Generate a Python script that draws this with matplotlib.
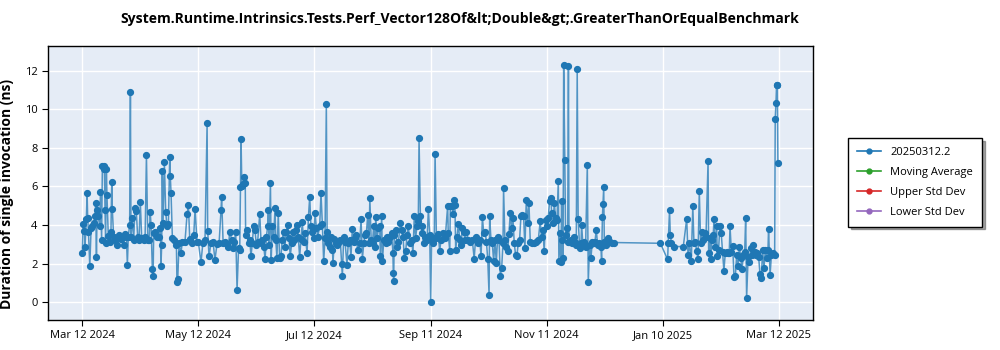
import datetime as dt

import numpy as np
import matplotlib
matplotlib.use("Agg")
import matplotlib.pyplot as plt
import matplotlib.dates as mdates
from matplotlib.ticker import FixedLocator, FixedFormatter, MultipleLocator

plt.rcParams['font.family'] = ['Open Sans', 'DejaVu Sans']

title = "System.Runtime.Intrinsics.Tests.Perf_Vector128Of&lt;Double&gt;.GreaterThanOrEqualBenchmark"
legend_names = ["20250312.2", "Moving Average", "Upper Std Dev", "Lower Std Dev"]
legend_colors = ["#1f77b4", "#2ca02c", "#d62728", "#9467bd"]
tick_labels = ["Mar 12 2024", "May 12 2024", "Jul 12 2024", "Sep 11 2024",
               "Nov 11 2024", "Jan 10 2025", "Mar 12 2025"]

start_date = dt.datetime(2024, 3, 12)
end_date = dt.datetime(2025, 3, 12)

# days since 2024-03-12 for every run
day_offsets = [
    0, 0.4, 1.1, 1.4, 2.1, 2.5, 2.8, 3.2, 3.9, 4.6, 5.3, 6.0, 6.7, 7.0, 7.4, 7.7, 8.4, 9.1, 9.5, 10.1,
    10.5, 11.2, 11.5, 11.9, 12.2, 12.6, 12.9, 13.6, 14.3, 15.0, 15.4, 15.7, 16.4, 17.1, 18.2, 19.2, 20.3,
    21.7, 22.4, 23.1, 23.6, 24.1, 24.8, 25.2, 25.5, 26.2, 26.9, 27.6, 28.3, 29.0, 29.7, 30.4, 31.1, 32.2,
    32.9, 33.6, 34.3, 35.0, 35.6, 36.0, 36.7, 37.1, 37.4, 38.1, 39.2, 40.2, 40.9, 41.2, 41.6, 41.9, 42.3,
    43.0, 43.7, 44.4, 45.1, 45.8, 46.1, 46.5, 47.2, 48.2, 49.3, 49.6, 50.0, 50.7, 51.7, 52.4, 53.8, 54.9,
    55.6, 56.3, 57.3, 58.4, 59.1, 60.1, 60.8, 62.2, 63.2, 64.3, 65.4, 65.7, 66.4, 67.4, 68.5, 69.5, 70.6,
    71.7, 72.7, 73.0, 73.8, 74.8, 75.8, 76.5, 77.3, 78.3, 79.0, 79.7, 80.4, 81.1, 81.9, 82.5, 82.9, 83.2,
    83.6, 84.3, 85.0, 85.4, 85.6, 86.4, 87.1, 87.8, 88.4, 89.1, 89.8, 90.5, 91.2, 91.9, 93.0, 93.7, 94.4,
    95.1, 95.8, 96.5, 97.2, 97.5, 97.9, 98.6, 99.0, 99.6, 100.3, 101.0, 101.4, 102.0, 102.7, 103.4, 104.1,
    104.8, 105.5, 106.2, 106.9, 107.6, 108.3, 109.0, 109.7, 110.4, 111.1, 111.8, 112.5, 113.2, 113.9,
    114.6, 115.3, 116.0, 116.7, 117.8, 118.5, 119.2, 119.8, 120.6, 121.3, 122.0, 122.7, 123.4, 124.4,
    125.1, 125.8, 126.5, 127.2, 127.9, 128.3, 129.0, 129.7, 130.4, 131.1, 131.4, 132.1, 132.8, 133.5,
    134.2, 135.2, 135.9, 136.3, 137.0, 137.7, 138.7, 139.4, 140.1, 140.8, 141.5, 142.2, 142.9, 143.6,
    144.3, 145.4, 146.1, 146.8, 147.5, 148.2, 148.9, 149.6, 150.3, 150.7, 151.4, 152.1, 152.7, 153.5,
    153.8, 154.5, 155.2, 155.9, 156.2, 156.9, 157.3, 158.0, 159.0, 159.7, 160.4, 161.4, 162.1, 162.8,
    163.0, 163.2, 163.5, 164.3, 165.0, 165.7, 166.7, 167.4, 168.1, 168.8, 169.5, 170.2, 170.9, 171.6,
    172.6, 173.3, 174.0, 174.7, 175.4, 176.1, 176.5, 177.2, 177.9, 178.2, 178.9, 179.6, 180.7, 181.4,
    182.1, 182.6, 183.1, 183.8, 184.5, 184.9, 185.6, 186.6, 187.3, 188.0, 189.1, 190.2, 191.5, 191.8,
    192.6, 192.9, 193.6, 194.3, 195.0, 195.3, 195.7, 196.4, 197.1, 197.8, 198.5, 199.2, 199.9, 200.6,
    201.3, 202.3, 203.4, 204.4, 205.4, 206.2, 207.2, 208.3, 209.0, 209.7, 210.4, 211.1, 211.8, 212.5,
    213.2, 213.5, 214.2, 214.9, 215.6, 216.3, 217.0, 217.7, 218.4, 219.1, 219.8, 220.5, 220.8, 221.5,
    222.2, 222.9, 223.6, 224.3, 225.0, 225.7, 226.4, 227.1, 227.8, 228.5, 229.2, 229.9, 230.6, 231.3,
    232.0, 232.7, 233.4, 234.1, 234.8, 235.8, 236.9, 237.9, 239.0, 240.0, 240.7, 241.4, 242.1, 242.8,
    243.5, 244.2, 244.9, 245.6, 246.0, 246.7, 247.4, 248.1, 248.8, 249.5, 249.8, 250.5, 250.9, 251.2,
    251.6, 252.0, 252.3, 252.9, 253.3, 254.0, 254.4, 254.8, 255.1, 256.1, 256.8, 257.5, 258.2, 258.9,
    259.4, 259.9, 260.7, 261.4, 261.7, 262.4, 263.1, 263.8, 264.7, 265.2, 265.9, 266.6, 267.3, 268.0,
    268.7, 269.4, 270.1, 270.8, 271.8, 272.2, 272.6, 272.9, 273.3, 273.6, 274.3, 275.0, 275.7, 276.4,
    277.5, 278.5, 303.0, 306.8, 307.1, 307.8, 308.2, 308.8, 309.9, 315.0, 316.8, 317.5, 318.2, 319.2,
    320.0, 320.6, 321.3, 322.0, 322.7, 323.4, 324.1, 324.8, 325.5, 326.2, 326.9, 328.0, 328.3, 329.0,
    329.3, 330.0, 330.7, 331.1, 331.8, 332.5, 332.8, 333.5, 334.2, 334.9, 335.6, 336.3, 337.0, 337.7,
    338.4, 339.1, 339.5, 340.2, 340.9, 341.6, 342.3, 343.0, 343.7, 344.4, 345.1, 345.8, 346.5, 347.2,
    347.7, 348.2, 349.0, 349.7, 350.4, 351.1, 351.7, 352.4, 353.1, 353.8, 354.5, 355.2, 355.9, 356.6,
    357.3, 358.0, 358.7, 359.4, 359.7, 360.5, 361.2, 362.2, 362.9, 363.2, 363.6, 363.9, 364.3, 364.6,
]

# duration of a single invocation, ns
durations = [
    2.54, 4.06, 3.71, 2.88, 4.30, 5.65, 4.35, 3.66, 1.87, 3.83, 3.95, 4.09, 4.44, 5.13, 2.33, 4.78, 4.44, 3.92, 5.73, 3.23,
    7.06, 6.89, 7.06, 4.78, 3.06, 6.89, 5.56, 3.44, 3.14, 3.66, 6.22, 4.84, 3.40, 3.23, 2.97, 3.49, 3.26,
    2.94, 3.54, 3.40, 1.93, 3.40, 4.01, 10.88, 3.40, 4.35, 3.23, 4.87, 4.70, 3.40, 3.23, 5.18, 3.32, 3.23,
    3.40, 7.62, 3.23, 3.23, 4.65, 4.01, 1.73, 1.38, 3.58, 3.66, 3.40, 3.40, 3.83, 1.85, 2.97, 6.79, 4.09,
    7.24, 4.65, 3.92, 4.04, 7.50, 6.55, 5.65, 3.32, 3.20, 2.97, 1.02, 1.19, 3.06, 2.54, 3.11, 3.14, 4.56,
    5.03, 3.26, 3.06, 3.49, 4.82, 3.14, 3.11, 2.06, 3.09, 3.23, 9.29, 3.71, 2.37, 3.06, 3.14, 2.19, 3.02,
    3.09, 4.78, 5.44, 3.06, 3.14, 3.02, 2.88, 3.66, 3.23, 2.80, 3.14, 3.61, 0.64, 2.80, 2.71, 5.96, 8.43,
    6.03, 6.11, 6.46, 6.16, 3.49, 3.75, 3.06, 3.23, 2.37, 3.06, 3.97, 3.75, 2.97, 3.14, 4.58, 3.06, 3.23,
    2.88, 2.23, 3.40, 3.97, 4.75, 2.97, 6.16, 2.19, 3.92, 3.40, 4.87, 3.23, 2.28, 4.61, 2.28, 2.37,
    3.23, 3.66, 2.88, 3.66, 4.01, 3.32, 2.37, 3.06, 3.61, 3.23, 3.75, 4.01, 3.40, 2.33,
    3.26, 4.13, 3.14, 3.58, 2.54, 4.40, 5.47, 3.92, 3.66, 3.32, 4.61, 3.83, 3.40, 3.92,
    5.65, 4.06, 2.11, 3.30, 10.28, 3.66, 3.06, 2.88, 3.40, 2.68, 2.02, 3.26, 3.06, 2.97,
    3.06, 3.23, 1.97, 1.33, 3.40, 3.14, 1.93, 3.06, 3.20, 2.33, 3.78, 3.14, 3.32, 3.49,
    2.68, 3.06, 4.30, 2.23, 3.06, 3.49, 3.58, 4.53, 3.06, 5.39, 3.23, 3.06, 3.92, 2.88,
    4.40, 3.32, 3.83, 3.95, 2.37, 4.47, 2.11, 3.23, 3.09, 3.40, 3.14, 3.40, 3.58, 2.57,
    1.50, 1.12, 3.49, 3.75, 2.88, 3.14, 4.09, 3.75, 3.40, 2.28, 2.63, 3.49, 3.95, 3.09,
    3.23, 2.54, 4.44, 3.32, 3.92, 4.18, 8.48, 4.44, 3.92, 3.58, 3.06, 3.40, 3.23, 4.82,
    3.49, 0.02, 3.23, 3.06, 3.32, 7.70, 3.32, 3.54, 2.63, 3.23, 3.58, 3.30, 4.99, 3.58,
    2.63, 4.99, 4.99, 4.56, 5.27, 5.04, 2.71, 3.40, 4.06, 3.23, 2.97, 3.83, 3.66, 3.23,
    3.66, 3.23, 3.14, 3.23, 2.25, 3.37, 3.06, 3.23, 2.37, 4.40, 3.58, 3.66, 3.14, 2.23,
    0.38, 4.44, 3.23, 3.06, 2.11, 3.23, 2.02, 3.40, 3.23, 1.36, 1.76, 3.06, 5.91, 3.23,
    2.88, 2.63, 3.54, 4.61, 3.83, 4.35, 3.06, 2.45, 2.40, 3.06, 3.23, 4.44, 4.53, 4.44,
    2.80, 5.27, 4.09, 5.13, 3.14, 3.06, 3.06, 3.14, 3.23, 4.18, 3.40, 3.75, 2.63, 4.27,
    3.92, 4.35, 5.22, 5.39, 4.61, 4.09, 5.13, 4.35, 4.27, 6.29, 2.11, 3.58, 2.07, 5.22,
    3.23, 2.31, 12.29, 7.38, 3.49, 3.83, 3.14, 12.24, 3.14, 3.23, 3.05, 3.40, 3.14, 2.97,
    12.09, 4.29, 2.80, 3.05, 4.00, 2.97, 3.14, 2.88, 7.11, 1.03, 2.97, 2.28, 3.14, 3.05,
    3.14, 3.75, 2.97, 3.05, 2.88, 2.11, 4.40, 5.07, 5.95, 3.14, 2.97, 3.23, 3.31, 3.14,
    3.05, 3.09, 3.05, 2.21, 3.05, 4.76, 3.49, 3.05, 2.88, 2.88, 4.31, 2.45, 3.06, 2.14,
    4.99, 3.06, 3.14, 2.66, 2.23, 5.75, 3.06, 3.66, 3.23, 3.57, 3.40, 7.32, 2.53, 3.31,
    2.26, 3.23, 3.49, 4.29, 2.88, 3.92, 2.40, 2.71, 3.95, 3.57, 2.62, 1.62, 2.53, 2.62,
    2.53, 2.57, 3.95, 2.62, 2.92, 1.29, 1.36, 2.45, 1.85, 2.88, 2.28, 1.71, 2.45, 2.62,
    4.37, 0.20, 2.36, 2.10, 2.80, 2.45, 2.97, 2.62, 2.45, 2.57, 2.36, 1.46, 1.24, 2.71,
    1.76, 2.71, 2.28, 2.71, 3.80, 1.41, 2.45, 2.53, 2.45, 9.51, 10.34, 11.25, 11.25, 7.23,
]

run_dates = [start_date + dt.timedelta(days=d) for d in day_offsets]

fig = plt.figure(figsize=(10, 3.5), dpi=100)
ax = fig.add_axes([0.048, 0.086, 0.765, 0.783])
ax.set_facecolor("#e5ecf6")

ax.plot(run_dates, durations, color=legend_colors[0], lw=1.1, alpha=0.75, zorder=3)
ax.plot(run_dates, durations, ls="none", marker="o", ms=4.2, color=legend_colors[0], zorder=4)

# ticks split the year into six equal steps
tick_dates = [start_date + (end_date - start_date) * i / 6 for i in range(7)]
ax.xaxis.set_major_locator(FixedLocator(mdates.date2num(tick_dates)))
ax.xaxis.set_major_formatter(FixedFormatter(tick_labels))
ax.set_xlim(start_date - dt.timedelta(days=18), start_date + dt.timedelta(days=383))
ax.set_ylim(-0.92, 13.28)
ax.yaxis.set_major_locator(MultipleLocator(2))

ax.grid(True, color="white", lw=1.0)
ax.set_axisbelow(True)
for s in ax.spines.values():
    s.set_color("black")
    s.set_linewidth(1.0)
ax.tick_params(axis="both", labelsize=8, length=4, color="black")

ax.set_ylabel("Duration of single invocation (ns)", fontsize=10, fontweight="bold")
ax.yaxis.set_label_coords(-0.044, 0.46)
fig.text(0.46, 0.947, title, ha="center", va="center", fontsize=10.1, fontweight="bold")

handles = [plt.Line2D([], [], color=c, lw=1.2, marker="o", ms=3.5) for c in legend_colors]
leg = fig.legend(handles, legend_names, loc="center left", bbox_to_anchor=(0.848, 0.479),
                 fontsize=8, frameon=True, fancybox=False, shadow=True, handlelength=2.2,
                 borderpad=0.8, labelspacing=0.8, borderaxespad=0, edgecolor="black")
leg.get_frame().set_linewidth(1.0)

fig.savefig("out.png", dpi=100)
